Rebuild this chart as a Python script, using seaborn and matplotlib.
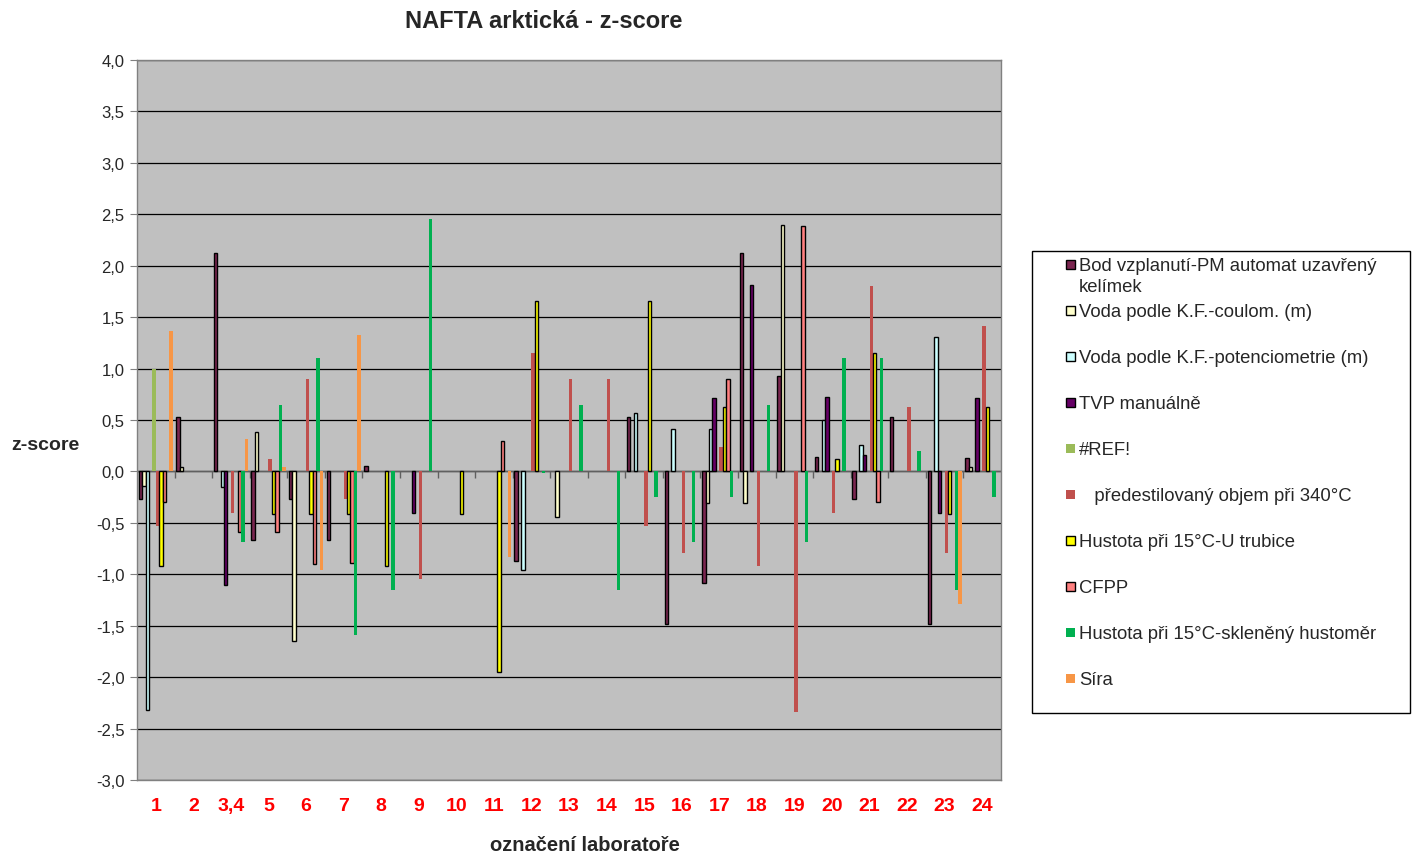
import numpy as np
import pandas as pd
import matplotlib.pyplot as plt
import seaborn as sns
from matplotlib.colors import to_hex
from matplotlib.patches import Rectangle

nan = np.nan

# ======================
# DATA (z-score per laboratory, read off the chart)
# ======================
labs = ["1", "2", "3,4", "5", "6", "7", "8", "9", "10", "11", "12", "13",
        "14", "15", "16", "17", "18", "19", "20", "21", "22", "23", "24"]

bod = [-0.27, 0.53, 2.12, -0.67, -0.27, -0.67, 0.05, nan, nan, nan, -0.87, nan,
       nan, 0.53, -1.48, -1.08, 2.12, 0.93, 0.14, -0.27, 0.53, -1.48, 0.13]
coul = [-0.14, 0.04, nan, 0.38, -1.65, nan, nan, nan, nan, nan, nan, -0.44,
        nan, nan, nan, -0.31, -0.31, 2.40, nan, nan, nan, nan, 0.04]
pot = [-2.32, nan, -0.15, nan, nan, nan, nan, nan, nan, nan, -0.96, nan,
       nan, 0.57, 0.41, 0.41, nan, nan, 0.50, 0.26, nan, 1.31, nan]
tvp = [nan, nan, -1.10, nan, nan, nan, nan, -0.40, nan, nan, nan, nan,
       nan, nan, nan, 0.71, 1.81, nan, 0.72, 0.16, nan, -0.40, 0.71]
ref = [1.00, nan, nan, nan, nan, nan, nan, nan, nan, nan, nan, nan,
       nan, nan, nan, nan, nan, nan, nan, nan, nan, nan, nan]
pred = [-0.53, nan, -0.40, 0.12, 0.90, -0.27, nan, -1.05, nan, nan, 1.15, 0.90,
        0.90, -0.53, -0.79, 0.24, -0.92, -2.34, -0.40, 1.80, 0.63, -0.79, 1.41]
hust_u = [-0.92, nan, nan, -0.41, -0.41, -0.41, -0.92, nan, -0.41, -1.95, 1.66, nan,
          nan, 1.66, nan, 0.63, nan, nan, 0.12, 1.15, nan, -0.41, 0.63]
cfpp = [-0.30, nan, -0.59, -0.59, -0.90, -0.89, nan, nan, nan, 0.30, nan, nan,
        nan, nan, nan, 0.90, nan, 2.39, nan, -0.30, nan, nan, nan]
hust_sk = [nan, nan, -0.69, 0.65, 1.10, -1.59, -1.15, 2.45, nan, nan, -0.02, 0.65,
           -1.15, -0.25, -0.69, -0.25, 0.65, -0.69, 1.10, 1.10, 0.20, -1.15, -0.25]
sira = [1.37, nan, 0.32, 0.04, -0.96, 1.33, nan, nan, nan, -0.83, nan, nan,
        nan, nan, nan, nan, nan, nan, nan, nan, nan, -1.29, nan]

series = ["Bod vzplanutí-PM automat uzavřený kelímek",
          "Voda podle K.F.-coulom. (m)",
          "Voda podle K.F.-potenciometrie (m)",
          "TVP manuálně",
          "#REF!",
          "předestilovaný objem při 340°C",
          "Hustota při 15°C-U trubice",
          "CFPP",
          "Hustota při 15°C-skleněný hustoměr",
          "Síra"]
legend_labels = ["Bod vzplanutí-PM automat uzavřený\nkelímek",
                 "Voda podle K.F.-coulom. (m)",
                 "Voda podle K.F.-potenciometrie (m)",
                 "TVP manuálně",
                 "#REF!",
                 "   předestilovaný objem při 340°C",
                 "Hustota při 15°C-U trubice",
                 "CFPP",
                 "Hustota při 15°C-skleněný hustoměr",
                 "Síra"]
colors = ["#7B2650", "#FFFFCC", "#CCFFFF", "#660066", "#9BBB59",
          "#C0504D", "#FFFF00", "#FF8080", "#00B050", "#F79646"]
outlined = [True, True, True, True, False, False, True, True, False, False]

df = pd.DataFrame({"lab": labs})
for name, vals in zip(series, [bod, coul, pot, tvp, ref, pred, hust_u, cfpp, hust_sk, sira]):
    df[name] = vals
long = df.melt(id_vars="lab", var_name="series", value_name="z").dropna()

# ======================
# PLOT
# ======================
sns.set_style("ticks")
plt.rcParams["font.family"] = ["Liberation Sans", "DejaVu Sans"]

W, H = 1418, 854
fx = lambda x: x / W
fy = lambda y: 1 - y / H

fig = plt.figure(figsize=(W / 100, H / 100), dpi=100)
ax = fig.add_axes([fx(137), fy(781), (1001 - 137) / W, (781 - 61) / H])

sns.barplot(data=long, x="lab", y="z", hue="series", order=labs, hue_order=series,
            palette=colors, width=10 / 11, saturation=1, errorbar=None,
            legend=False, ax=ax, zorder=3)

edge_of = {to_hex(c): o for c, o in zip(colors, outlined)}
for bar in ax.patches:
    if edge_of.get(to_hex(bar.get_facecolor()), False):
        bar.set_edgecolor("black")
        bar.set_linewidth(1.0)
    else:
        bar.set_linewidth(0)

ax.set_facecolor("#C0C0C0")
ax.set_xlim(-0.5, len(labs) - 0.5)
ax.set_ylim(-3, 4)
yt = np.arange(-3, 4.01, 0.5)
ax.set_yticks(yt)
ax.set_yticklabels([f"{v:.1f}".replace(".", ",") for v in yt], fontsize=12)
ax.yaxis.grid(True, color="black", lw=0.9, zorder=1)
ax.set_axisbelow(True)
ax.tick_params(axis="y", direction="out", length=5, color="#808080", pad=4)

ax.set_xticks(range(len(labs)))
ax.set_xticklabels(labs, color="red", fontweight="bold", fontsize=14)
ax.tick_params(axis="x", length=0, pad=12)

# category separators on the zero line, like the Excel axis
ax.axhline(0, color="#606060", lw=1, zorder=2)
ax.vlines(np.arange(0.5, len(labs) - 0.5), -0.06, 0, colors="#606060", lw=1, zorder=2)

for s in ax.spines.values():
    s.set_color("#808080")
    s.set_linewidth(1)

ax.set_xlabel("označení laboratoře", fontweight="bold", fontsize=14.5)
ax.xaxis.set_label_coords((585 - 137) / 864, (781 - 836) / 720)
ax.set_ylabel("z-score", fontweight="bold", fontsize=14, rotation=0,
              ha="center", va="center")
ax.yaxis.set_label_coords((45 - 137) / 864, (781 - 445) / 720)

fig.text(fx(544), fy(22), "NAFTA arktická - z-score", ha="center", va="center",
         fontweight="bold", fontsize=17)

# legend box
fig.add_artist(Rectangle((fx(1032), fy(714)), (1410 - 1032) / W, (714 - 252) / H,
                         transform=fig.transFigure, facecolor="white",
                         edgecolor="black", lw=1))
ys = [265, 311, 357, 403, 449, 495, 541, 587, 633, 679]
for y, lab, c, o in zip(ys, legend_labels, colors, outlined):
    fig.add_artist(Rectangle((fx(1066), fy(y + 4.5)), 9 / W, 9 / H,
                             transform=fig.transFigure, facecolor=c,
                             edgecolor="black" if o else "none", lw=1))
    fig.text(fx(1079), fy(y - 7), lab, ha="left", va="top", fontsize=13.3,
             linespacing=1.32)

fig.savefig("out.png", dpi=100)
